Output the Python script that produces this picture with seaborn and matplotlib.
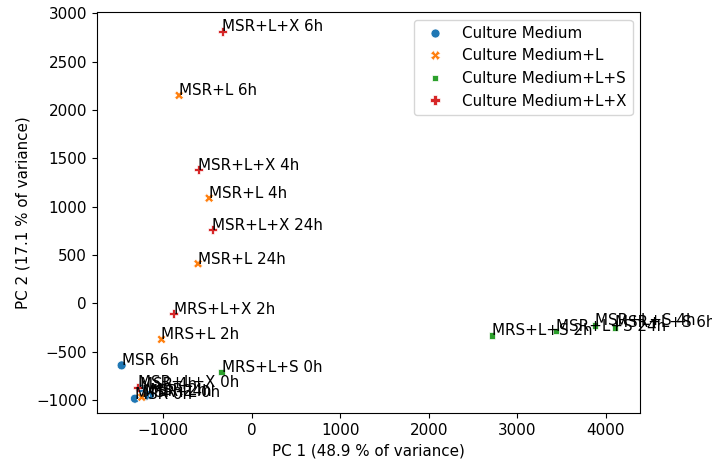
import matplotlib
matplotlib.use("Agg")
import matplotlib.pyplot as plt
import seaborn as sns
import pandas as pd

labels = [
    "MSR 0h", "MSR 2h", "MSR 4h", "MSR 6h", "MSR 24h",
    "MSR+L 0h", "MRS+L 2h", "MSR+L 4h", "MSR+L 6h", "MSR+L 24h",
    "MRS+L+S 0h", "MRS+L+S 2h", "MSR+L+S 4h", "MSR+L+S 6h", "MSR+L+S 24h",
    "MSR+L+X 0h", "MRS+L+X 2h", "MSR+L+X 4h", "MSR+L+X 6h", "MSR+L+X 24h",
]
groups = (["Culture Medium"] * 5 + ["Culture Medium+L"] * 5 +
          ["Culture Medium+L+S"] * 5 + ["Culture Medium+L+X"] * 5)
pc1 = [-1320, -1150, -1265, -1470, -1205,
       -1243, -1020, -482, -821, -607,
       -342, 2715, 3876, 4102, 3435,
       -1288, -881, -607, -331, -444]
pc2 = [-985, -945, -880, -641, -960,
       -970, -372, 1088, 2150, 410,
       -712, -331, -227, -248, -286,
       -868, -107, 1382, 2814, 762]

plt.rcParams["font.size"] = 10.9
plt.rcParams["lines.markersize"] = 6.5

df = pd.DataFrame({"PC1": pc1, "PC2": pc2, "label": labels, "group": groups})

fig = plt.figure(figsize=(7.12, 4.69), dpi=100)
ax = fig.add_axes([0.136, 0.119, 0.763, 0.855])
sns.scatterplot(data=df, x="PC1", y="PC2", hue="group", style="group", ax=ax)
for x, y, t in zip(pc1, pc2, labels):
    ax.text(x, y, t)

ax.set_xlim(-1750, 4385)
ax.set_ylim(-1135, 3010)
ax.set_xlabel("PC 1 (48.9 % of variance)")
ax.set_ylabel("PC 2 (17.1 % of variance)")
leg = ax.get_legend()
h = leg.legend_handles
l = [t.get_text() for t in leg.texts]
ax.legend(h, l, loc="upper right")
fig.savefig("out.png", dpi=100)
